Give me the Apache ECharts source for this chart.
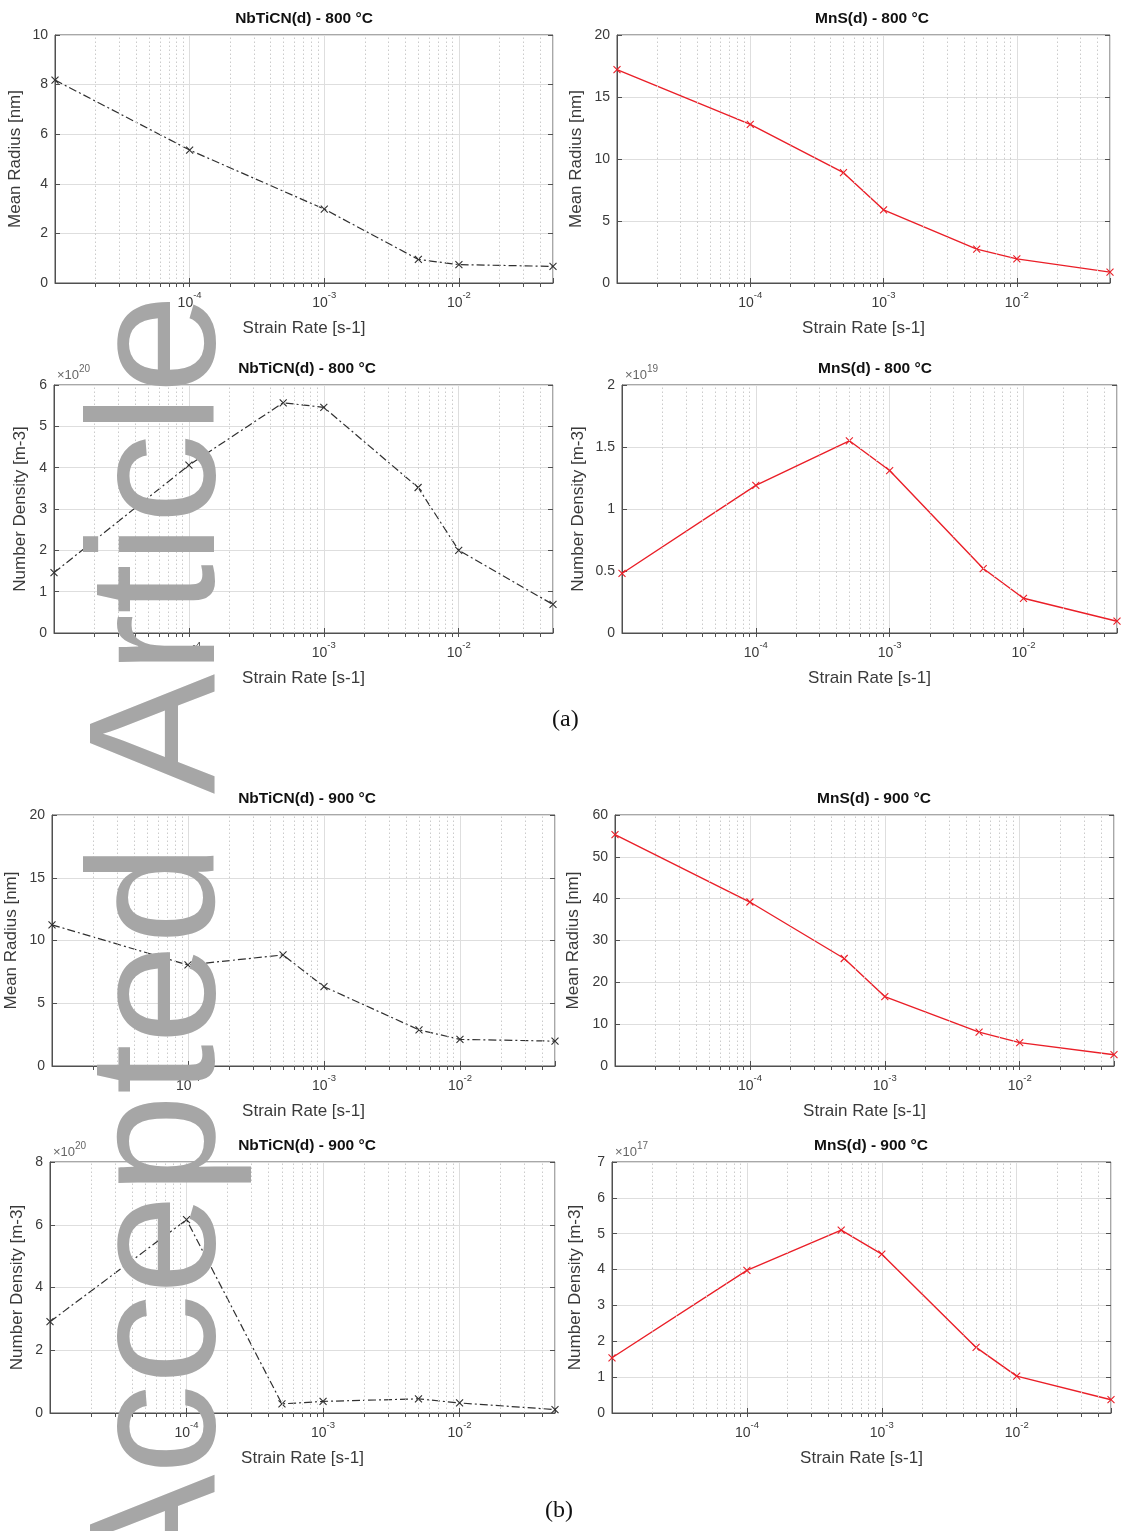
<!DOCTYPE html>
<html>
<head>
<meta charset="utf-8">
<title>Precipitates vs strain rate</title>
<script src="https://cdn.jsdelivr.net/npm/echarts@6.0.0/dist/echarts.min.js"></script>
<style>
html, body { margin: 0; padding: 0; background: #fff; }
#chart { width: 1121px; height: 1531px; }
</style>
</head>
<body>
<div id="chart"></div>
<script>
// strain rates [s-1]
const ratesShort = [1e-5, 1e-4, 1e-3, 5e-3, 1e-2, 5e-2]
const ratesFull = [1e-5, 1e-4, 5e-4, 1e-3, 5e-3, 1e-2, 5e-2]

// mean radius [nm]
const nbRadius800 = [8.18, 5.36, 2.98, 0.95, 0.74, 0.67]
const mnsRadius800 = [17.2, 12.8, 8.9, 5.9, 2.73, 1.95, 0.88]
const nbRadius900 = [11.25, 8.05, 8.85, 6.32, 2.88, 2.12, 1.98]
const mnsRadius900 = [55.3, 39.2, 25.7, 16.6, 8.1, 5.6, 2.7]

// number density [m-3], in units of 10^exp
const nbDensity800 = [1.46, 4.06, 5.57, 5.46, 3.52, 2.0, 0.69]   // x10^20
const mnsDensity800 = [0.48, 1.19, 1.55, 1.31, 0.52, 0.28, 0.095] // x10^19
const nbDensity900 = [2.91, 6.16, 0.29, 0.37, 0.45, 0.32, 0.11]  // x10^20
const mnsDensity900 = [1.54, 3.98, 5.1, 4.43, 1.83, 1.03, 0.37]  // x10^17

// tick labels
const radiusTicks800 = [0, 2, 4, 6, 8, 10]
const radiusTicksMns800 = [0, 5, 10, 15, 20]
const densityTicks800 = [0, 1, 2, 3, 4, 5, 6]
const densityTicksMns800 = [0, 0.5, 1, 1.5, 2]
const radiusTicks900 = [0, 5, 10, 15, 20]
const radiusTicksMns900 = [0, 10, 20, 30, 40, 50, 60]
const densityTicks900 = [0, 2, 4, 6, 8]
const densityTicksMns900 = [0, 1, 2, 3, 4, 5, 6, 7]
const majorX = [1e-4, 1e-3, 1e-2]

const X_MIN = 1e-5, X_MAX = 5e-2
const FONT = '"Liberation Sans", Arial, Helvetica, sans-serif'
const NB = { color: '#303030', dash: [8, 3, 2, 3], width: 1.2 }
const MN = { color: '#ea1f28', dash: 'solid', width: 1.4 }

const panels = [
    { title: 'NbTiCN(d) - 800 °C', name: 'Mean Radius [nm]', x: ratesShort, y: nbRadius800, ticks: radiusTicks800, st: NB,
      box: [55, 35, 553, 283], nameGap: 31, tx: 299 },
    { title: 'MnS(d) - 800 °C', name: 'Mean Radius [nm]', x: ratesFull, y: mnsRadius800, ticks: radiusTicksMns800, st: MN,
      box: [617, 35, 1110, 283], nameGap: 32, tx: 867 },
    { title: 'NbTiCN(d) - 800 °C', name: 'Number Density [m-3]', x: ratesFull, y: nbDensity800, ticks: densityTicks800, st: NB,
      box: [54, 385, 553, 633], nameGap: 25, exp: 20, tx: 302 },
    { title: 'MnS(d) - 800 °C', name: 'Number Density [m-3]', x: ratesFull, y: mnsDensity800, ticks: densityTicksMns800, st: MN,
      box: [622, 385, 1117, 633], nameGap: 35, exp: 19, tx: 870 },
    { title: 'NbTiCN(d) - 900 °C', name: 'Mean Radius [nm]', x: ratesFull, y: nbRadius900, ticks: radiusTicks900, st: NB,
      box: [52, 815, 555, 1066], nameGap: 32, tx: 302 },
    { title: 'MnS(d) - 900 °C', name: 'Mean Radius [nm]', x: ratesFull, y: mnsRadius900, ticks: radiusTicksMns900, st: MN,
      box: [615, 815, 1114, 1066], nameGap: 33, tx: 869 },
    { title: 'NbTiCN(d) - 900 °C', name: 'Number Density [m-3]', x: ratesFull, y: nbDensity900, ticks: densityTicks900, st: NB,
      box: [50, 1162, 555, 1413], nameGap: 24, exp: 20, tx: 302 },
    { title: 'MnS(d) - 900 °C', name: 'Number Density [m-3]', x: ratesFull, y: mnsDensity900, ticks: densityTicksMns900, st: MN,
      box: [612, 1162, 1111, 1413], nameGap: 28, exp: 17, tx: 866 },
]

// minor grid positions 2..9 x 10^k inside the range
const minorX = []
for (let k = -5; k <= -2; k++) {
    for (let m = 2; m <= 9; m++) {
        const v = m * Math.pow(10, k)
        if (v < X_MAX) minorX.push(v)
    }
}

function xLabel(value){
    const e = Math.log10(value)
    const r = Math.round(e)
    if (Math.abs(e - r) > 1e-6 || r === -5) return ''
    return '{b|10}{s|' + r + '}'
}

let grids = [], xAxes = [], yAxes = [], series = [], titles = [], graphics = []

panels.forEach((p, i) => {
    const [l, t, r, b] = p.box
    grids.push({
        left: l, top: t, width: r - l, height: b - t,
        show: true, borderColor: '#505050', borderWidth: 1,
        outerBoundsMode: 'none', containLabel: false
    })
    const yStep = p.ticks[1] - p.ticks[0]
    const yMax = p.ticks[p.ticks.length - 1]
    // bottom / left axes with labels and grid
    xAxes.push({
        type: 'log', logBase: 10, gridIndex: i, min: X_MIN, max: X_MAX, interval: 1,
        name: 'Strain Rate [s-1]', nameLocation: 'middle', nameGap: 37,
        nameTextStyle: { fontFamily: FONT, fontSize: 17, color: '#3a3a3a' },
        axisLine: { show: true, lineStyle: { color: '#505050' } },
        axisTick: { show: true, inside: true, length: 5, lineStyle: { color: '#505050' } },
        axisLabel: {
            margin: 7, formatter: xLabel, showMinLabel: true, showMaxLabel: true,
            rich: {
                b: { fontFamily: FONT, fontSize: 14, color: '#3a3a3a', lineHeight: 20, verticalAlign: 'bottom' },
                s: { fontFamily: FONT, fontSize: 9.5, color: '#3a3a3a', lineHeight: 20, verticalAlign: 'top' }
            }
        },
        splitLine: { show: true, lineStyle: { color: '#dedede', width: 1 } },
        minorTick: { show: false }, minorSplitLine: { show: false }
    })
    yAxes.push({
        type: 'value', gridIndex: i, min: 0, max: yMax, interval: yStep,
        name: p.name, nameLocation: 'middle', nameGap: p.nameGap,
        nameTextStyle: { fontFamily: FONT, fontSize: 17, color: '#3a3a3a' },
        axisLine: { show: true, lineStyle: { color: '#505050' } },
        axisTick: { show: true, inside: true, length: 5, lineStyle: { color: '#505050' } },
        axisLabel: { margin: 7, fontFamily: FONT, fontSize: 14, color: '#3a3a3a' },
        splitLine: { show: true, lineStyle: { color: '#dedede', width: 1 } }
    })
    // top / right axes only for the inside ticks (matlab box), top one also carries minor ticks
    xAxes.push({
        type: 'log', logBase: 10, gridIndex: i, min: X_MIN, max: X_MAX, interval: 1, position: 'top',
        axisLine: { show: false }, axisLabel: { show: false }, splitLine: { show: false },
        axisTick: { show: true, inside: true, length: 4, customValues: majorX.concat(minorX), lineStyle: { color: '#505050' } }
    })
    yAxes.push({
        type: 'value', gridIndex: i, min: 0, max: yMax, interval: yStep, position: 'right',
        axisLine: { show: false }, axisLabel: { show: false }, splitLine: { show: false },
        axisTick: { show: true, inside: true, length: 5, lineStyle: { color: '#505050' } }
    })

    // dotted minor grid, drawn through the log axis
    series.push({
        type: 'line', xAxisIndex: 2 * i, yAxisIndex: 2 * i, data: [], z: 1, silent: true,
        markLine: {
            silent: true, symbol: ['none', 'none'], animation: false, precision: 12,
            label: { show: false },
            lineStyle: { color: '#cbcbcb', width: 1, type: [1.5, 2.5] },
            emphasis: { disabled: true },
            data: minorX.map(v => ({ xAxis: v }))
        }
    })
    series.push({
        type: 'line', xAxisIndex: 2 * i, yAxisIndex: 2 * i, z: 3,
        data: p.x.map((v, j) => [v, p.y[j]]),
        symbol: 'path://M0,0L10,10M10,0L0,10', symbolSize: 7,
        itemStyle: { color: 'transparent', borderColor: p.st.color, borderWidth: 1.1 },
        lineStyle: { color: p.st.color, width: p.st.width, type: p.st.dash },
        animation: false
    })

    titles.push({
        text: p.title, left: p.tx, top: t - 29, textAlign: 'center',
        textStyle: { fontFamily: FONT, fontSize: 15.5, fontWeight: 'bold', color: '#111' }
    })

    if (p.exp) {
        graphics.push({
            type: 'text', left: l + 3, top: t - 21, z: 5,
            style: {
                text: '{a|×10}{e|' + p.exp + '}',
                rich: {
                    a: { fontFamily: FONT, fontSize: 13, fill: '#666', lineHeight: 18, verticalAlign: 'bottom' },
                    e: { fontFamily: FONT, fontSize: 10, fill: '#666', lineHeight: 18, verticalAlign: 'top' }
                }
            }
        })
    }
})

// sub-figure labels
graphics.push({ type: 'text', left: 552, top: 708, style: { text: '(a)', font: '24px "Liberation Serif", "Times New Roman", serif', fill: '#111' } })
graphics.push({ type: 'text', left: 545, top: 1499, style: { text: '(b)', font: '24px "Liberation Serif", "Times New Roman", serif', fill: '#111' } })

// journal watermark over the figure
graphics.push({
    type: 'text', x: 164, y: 294, rotation: Math.PI / 2, z: 100, silent: true,
    style: {
        text: 'Accepted Article', font: '180px "Liberation Sans", Arial, sans-serif',
        fill: '#a6a6a6', align: 'right', verticalAlign: 'middle'
    }
})

var option = {
    animation: false,
    backgroundColor: '#fff',
    title: titles,
    grid: grids,
    xAxis: xAxes,
    yAxis: yAxes,
    series: series,
    graphic: graphics
}

const myChart = echarts.init(document.getElementById('chart'), null, { renderer: 'canvas' })
myChart.setOption(option)
</script>
</body>
</html>
